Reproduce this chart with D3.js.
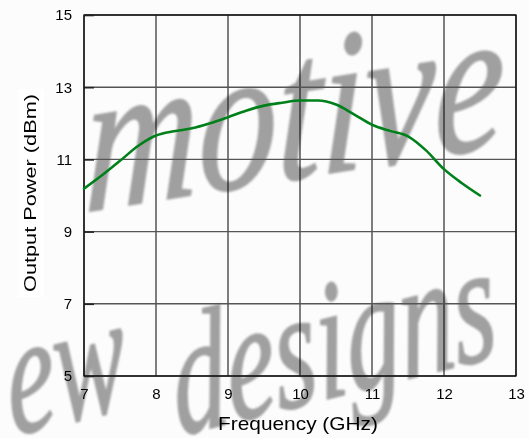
<!DOCTYPE html>
<html>
<head>
<meta charset="utf-8">
<script src="https://cdn.jsdelivr.net/npm/d3@7"></script>
<style>
  html, body { margin: 0; padding: 0; background: #fcfcfc; }
  svg { display: block; }
</style>
</head>
<body>
<svg id="chart" width="529" height="438"></svg>
<script>
// Output power vs. frequency
const frequencies = [7.0, 7.25, 7.5, 7.75, 8.0, 8.25, 8.5, 8.75, 9.0, 9.25, 9.5, 9.75,
                     10.0, 10.25, 10.5, 10.75, 11.0, 11.25, 11.5, 11.75, 12.0, 12.25, 12.5];
const outputPower = [10.19, 10.56, 10.96, 11.37, 11.66, 11.78, 11.86, 12.0, 12.17, 12.35, 12.49, 12.57,
                     12.63, 12.63, 12.52, 12.25, 11.96, 11.79, 11.64, 11.25, 10.73, 10.34, 10.0];
const xTicks = [7, 8, 9, 10, 11, 12, 13];
const yTicks = [5, 7, 9, 11, 13, 15];
const xTitle = "Frequency (GHz)";
const yTitle = "Output Power (dBm)";
const watermarkWords = ["motive", "ew", "designs"];

const svg = d3.select("#chart");
const W = 529, H = 438;
const plot = { left: 84, right: 516, top: 15, bottom: 376 };

const x = d3.scaleLinear().domain([7, 13]).range([plot.left, plot.right]);
const y = d3.scaleLinear().domain([5, 15]).range([plot.bottom, plot.top]);

// soft background
svg.append("rect").attr("width", W).attr("height", H).attr("fill", "#fcfcfc");

// watermark lettering behind the chart
const defs = svg.append("defs");
defs.append("filter").attr("id", "soft")
  .append("feGaussianBlur").attr("stdDeviation", 0.9);

const wm = svg.append("g").attr("filter", "url(#soft)")
  .attr("fill", "#a0a0a0")
  .attr("stroke", "#a0a0a0")
  .attr("stroke-width", 1.5)
  .attr("stroke-linejoin", "round")
  .style("font-family", "'Liberation Serif', 'DejaVu Serif', serif")
  .style("font-style", "italic");

const wmLayout = [
  { t: "translate(84,212) rotate(-9) skewX(-10) scale(1,1.2)", size: 170, len: 425 },
  { t: "translate(12,436) rotate(-14) skewX(-8) scale(1,1.3)", size: 130, len: 122 },
  { t: "translate(178,436) rotate(-14) skewX(-8) scale(1,1.3)", size: 130, len: 332 }
];
wm.selectAll("text").data(watermarkWords).join("text")
  .attr("transform", (d, i) => wmLayout[i].t)
  .attr("font-size", (d, i) => wmLayout[i].size)
  .attr("textLength", (d, i) => wmLayout[i].len)
  .attr("lengthAdjust", "spacingAndGlyphs")
  .text(d => d);

// grid
const grid = svg.append("g");
grid.selectAll("line.v").data(xTicks).join("line")
  .attr("x1", d => x(d)).attr("x2", d => x(d))
  .attr("y1", plot.top).attr("y2", plot.bottom)
  .attr("stroke", "#000").attr("stroke-width", 1);
grid.selectAll("line.h").data(yTicks).join("line")
  .attr("x1", plot.left).attr("x2", plot.right)
  .attr("y1", d => y(d)).attr("y2", d => y(d))
  .attr("stroke", "#555").attr("stroke-width", 1.4);

// plot frame
svg.append("rect")
  .attr("x", plot.left).attr("y", plot.top)
  .attr("width", plot.right - plot.left).attr("height", plot.bottom - plot.top)
  .attr("fill", "none").attr("stroke", "#000").attr("stroke-width", 1.2);

// axes (labels only, inward ticks)
const yAxis = d3.axisLeft(y).tickValues(yTicks).tickFormat(d3.format("d")).tickSize(-10).tickPadding(12);
const xAxis = d3.axisBottom(x).tickValues(xTicks).tickFormat(d3.format("d")).tickSize(0).tickPadding(12);

const gy = svg.append("g").attr("transform", `translate(${plot.left},0)`).call(yAxis);
const gx = svg.append("g").attr("transform", `translate(0,${plot.bottom})`).call(xAxis);
[gx, gy].forEach(g => {
  g.select(".domain").remove();
  g.selectAll("text")
    .attr("fill", "#000")
    .style("font-family", "'Liberation Sans', Arial, sans-serif")
    .style("font-size", "15px");
});
gy.selectAll(".tick line").attr("stroke", "#222").attr("stroke-width", 1.6);

// curve
const pts = frequencies.map((f, i) => [f, outputPower[i]]);
svg.append("path")
  .datum(pts)
  .attr("fill", "none")
  .attr("stroke", "#00801a")
  .attr("stroke-width", 2.6)
  .attr("stroke-linejoin", "round")
  .attr("stroke-linecap", "round")
  .attr("d", d3.line().x(d => x(d[0])).y(d => y(d[1])).curve(d3.curveMonotoneX));

// axis titles
const yt = svg.append("g").attr("transform", "translate(36,193) rotate(-90)");
yt.append("rect").attr("x", -104).attr("y", -18).attr("width", 208).attr("height", 26).attr("fill", "#fff");
yt.append("text")
  .attr("text-anchor", "middle")
  .attr("fill", "#000")
  .style("font-family", "'Liberation Sans', Arial, sans-serif")
  .style("font-size", "17px")
  .attr("textLength", 198)
  .attr("lengthAdjust", "spacingAndGlyphs")
  .text(yTitle);

svg.append("text")
  .attr("x", 298).attr("y", 430)
  .attr("text-anchor", "middle")
  .attr("fill", "#000")
  .style("font-family", "'Liberation Sans', Arial, sans-serif")
  .style("font-size", "19px")
  .attr("textLength", 160)
  .attr("lengthAdjust", "spacingAndGlyphs")
  .text(xTitle);
</script>
</body>
</html>
